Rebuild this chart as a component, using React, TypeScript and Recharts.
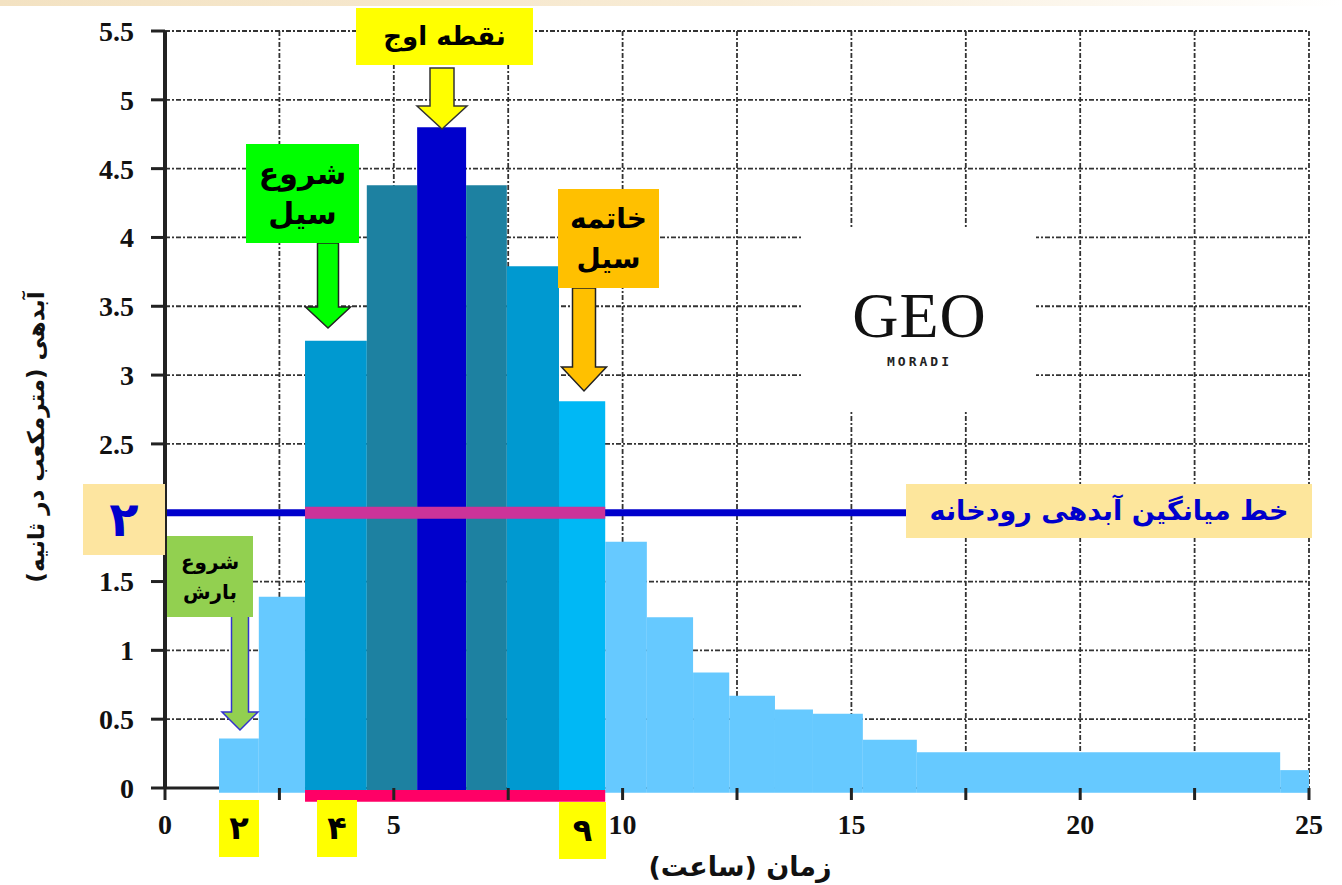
import { CartesianGrid, ComposedChart, Line, ReferenceArea, XAxis, YAxis } from "recharts";

// bin edges (hours) and discharge (m3/s) of the hydrograph
const BIN_EDGES = [1.18, 2.05, 3.06, 4.41, 5.51, 6.58, 7.47, 8.61, 9.62, 10.53, 11.54, 12.33, 13.33, 14.16, 15.25, 16.43, 24.37, 25];
const DISCHARGE = [0.36, 1.39, 3.25, 4.38, 4.8, 4.38, 3.79, 2.81, 1.79, 1.24, 0.84, 0.67, 0.57, 0.54, 0.35, 0.26, 0.13];
const BIN_PHASE = ["base", "base", "flood", "near", "peak", "near", "flood", "end", "base", "base", "base", "base", "base", "base", "base", "base", "base"];

const MEAN_FLOW = 2;
const MEAN_LINE = [{ t: 0, q: MEAN_FLOW }, { t: 16.2, q: MEAN_FLOW }];
const FLOOD_LINE = [{ t: BIN_EDGES[2], q: MEAN_FLOW }, { t: BIN_EDGES[8], q: MEAN_FLOW }];
const AXIS_STUB = [{ t: 0, q: 0 }, { t: BIN_EDGES[0], q: 0 }];

const X_TICKS = [0, 2.5, 5, 7.5, 10, 12.5, 15, 17.5, 20, 22.5, 25];
const Y_TICKS = [0, 0.5, 1, 1.5, 2, 2.5, 3, 3.5, 4, 4.5, 5, 5.5];

const PHASE_COLORS: Record<string, string> = {
    base: "#66c9ff",
    flood: "#0099d0",
    near: "#1d81a1",
    peak: "#0000cc",
    end: "#00b8f5",
};

const FA = "'DejaVu Sans', sans-serif";
const NUM = "'Liberation Serif', serif";

const bins = DISCHARGE.map((q, i) => ({ from: BIN_EDGES[i], to: BIN_EDGES[i + 1], q, phase: BIN_PHASE[i] }));

type BoxProps = { left: number; top: number; w: number; h: number; bg: string; size: number; color?: string; lh?: number; children: React.ReactNode };

function Box({ left, top, w, h, bg, size, color = "#000", lh, children }: BoxProps) {
    return (
        <div
            dir="rtl"
            style={{
                position: "absolute", left, top, width: w, height: h, background: bg,
                display: "flex", alignItems: "center", justifyContent: "center", textAlign: "center",
                fontFamily: FA, fontWeight: 700, fontSize: size, color, lineHeight: lh ? `${lh}px` : 1.2,
            }}
        >
            <div>{children}</div>
        </div>
    );
}

function arrow(cx: number, top: number, headY: number, tip: number, bodyW: number, headW: number) {
    const b = bodyW / 2, hw = headW / 2;
    return `${cx - b},${top} ${cx + b},${top} ${cx + b},${headY} ${cx + hw},${headY} ${cx},${tip} ${cx - hw},${headY} ${cx - b},${headY}`;
}

export default function App() {
    return (
        <div style={{ position: "fixed", left: 0, top: 0, width: 1342, height: 885, background: "#fff", overflow: "hidden" }}>
            <div style={{ position: "absolute", left: 0, top: 0, width: 1342, height: 6, background: "linear-gradient(to right, #f3e2c2, #f8ecd6 55%, #ffffff)" }} />

            <ComposedChart width={1342} height={885} margin={{ top: 31, right: 33, left: 0, bottom: 0 }}>
                <CartesianGrid stroke="#333" strokeWidth={1.8} strokeDasharray="5 2 2 2" />
                <XAxis
                    type="number"
                    dataKey="t"
                    domain={[0, 25]}
                    ticks={X_TICKS}
                    height={97}
                    tickFormatter={(v) => (v % 5 === 0 ? String(v) : "")}
                    axisLine={false}
                    tickLine={{ stroke: "#222", strokeWidth: 3 }}
                    tickSize={12}
                    tickMargin={14}
                    tick={{ fontFamily: NUM, fontWeight: 700, fontSize: 28, fill: "#111" }}
                />
                <YAxis
                    type="number"
                    domain={[0, 5.5]}
                    ticks={Y_TICKS}
                    width={165}
                    tickFormatter={(v) => (v === MEAN_FLOW ? "" : String(v))}
                    axisLine={{ stroke: "#222", strokeWidth: 4 }}
                    tickLine={{ stroke: "#222", strokeWidth: 3 }}
                    tickSize={14}
                    tickMargin={17}
                    tick={{ fontFamily: NUM, fontWeight: 700, fontSize: 28, fill: "#111" }}
                />
                {bins.map((b) => (
                    <ReferenceArea
                        key={b.from}
                        x1={b.from}
                        x2={b.to}
                        y1={-0.035}
                        y2={b.q}
                        fill={PHASE_COLORS[b.phase]}
                        fillOpacity={1}
                        stroke="none"
                        ifOverflow="visible"
                    />
                ))}
                <ReferenceArea x1={BIN_EDGES[2]} x2={BIN_EDGES[8]} y1={-0.1} y2={-0.015} fill="#ff0066" fillOpacity={1} stroke="none" ifOverflow="visible" />
                <Line data={AXIS_STUB} dataKey="q" stroke="#222" strokeWidth={3} dot={false} isAnimationActive={false} />
                <Line data={MEAN_LINE} dataKey="q" stroke="#0000cc" strokeWidth={7} dot={false} isAnimationActive={false} />
                <Line data={FLOOD_LINE} dataKey="q" stroke="#cc3399" strokeWidth={12} dot={false} isAnimationActive={false} />
            </ComposedChart>

            {/* watermark patch */}
            <div style={{ position: "absolute", left: 803, top: 228, width: 233, height: 184, background: "#fff" }} />
            <div style={{ position: "absolute", left: 803, top: 284, width: 233, textAlign: "center", fontFamily: NUM, fontSize: 64, lineHeight: "64px", color: "#111", letterSpacing: 1 }}>GEO</div>
            <div style={{ position: "absolute", left: 803, top: 354, width: 233, textAlign: "center", fontFamily: "'DejaVu Sans Mono', monospace", fontWeight: 700, fontSize: 13, color: "#222", letterSpacing: 3 }}>MORADI</div>

            <svg width={1342} height={885} style={{ position: "absolute", left: 0, top: 0, pointerEvents: "none" }}>
                <polygon points={arrow(442, 68, 106, 129, 24, 50)} fill="#ffff00" stroke="#333" strokeWidth={1.5} />
                <polygon points={arrow(328, 243, 307, 328, 21, 45)} fill="#00ff00" stroke="#222" strokeWidth={1.5} />
                <polygon points={arrow(584, 288, 367, 391, 23, 45)} fill="#ffc000" stroke="#222" strokeWidth={1.5} />
                <polygon points={arrow(240, 613, 712, 730, 17, 36)} fill="#92d050" stroke="#3333cc" strokeWidth={1.5} />
            </svg>

            <Box left={356} top={8} w={177} h={57} bg="#ffff00" size={26}>نقطه اوج</Box>
            <Box left={246} top={144} w={113} h={99} bg="#00ff00" size={30} lh={40}>شروع<br />سیل</Box>
            <Box left={558} top={189} w={101} h={99} bg="#ffc000" size={28} lh={40}>خاتمه<br />سیل</Box>
            <Box left={167} top={536} w={86} h={81} bg="#92d050" size={20} lh={30}>شروع<br />بارش</Box>
            <Box left={906} top={484} w={406} h={54} bg="#fde69c" size={27} color="#0000cc">خط میانگین آبدهی رودخانه</Box>
            <Box left={83} top={484} w={82} h={71} bg="#fde5a0" size={48} color="#0000cc">۲</Box>
            <Box left={219} top={800} w={40} h={57} bg="#ffff00" size={32}>۲</Box>
            <Box left={317} top={800} w={40} h={57} bg="#ffff00" size={32}>۴</Box>
            <Box left={559} top={802} w={47} h={57} bg="#ffff00" size={32}>۹</Box>

            <div dir="rtl" style={{ position: "absolute", left: 540, top: 851, width: 400, textAlign: "center", fontFamily: FA, fontWeight: 700, fontSize: 27, color: "#111" }}>
                زمان (ساعت)
            </div>
            <div
                dir="rtl"
                style={{
                    position: "absolute", left: 36 - 200, top: 437 - 18, width: 400, height: 36, textAlign: "center",
                    fontFamily: FA, fontWeight: 700, fontSize: 23, lineHeight: "36px", color: "#111", transform: "rotate(-90deg)",
                }}
            >
                آبدهی (مترمکعب در ثانیه)
            </div>
        </div>
    );
}
